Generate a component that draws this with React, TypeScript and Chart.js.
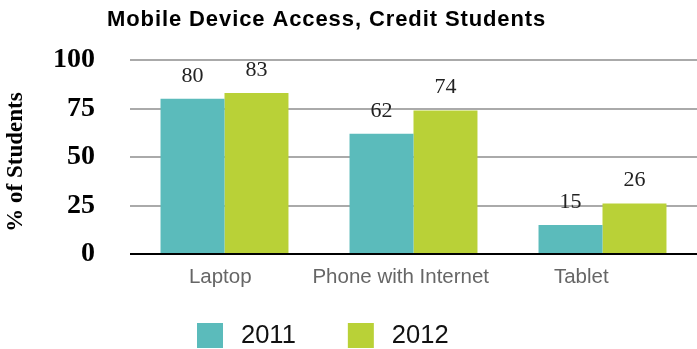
import React, { useEffect, useRef } from "react";
import { Chart, registerables } from "chart.js";

Chart.register(...registerables);

const categories = ["Laptop", "Phone with Internet", "Tablet"];
const series2011 = [80, 62, 15];
const series2012 = [83, 74, 26];
const seriesLabels = ["2011", "2012"];
const seriesColors = ["#5bbbbb", "#b9d137"];
const yTicks = [0, 25, 50, 75, 100];
const titleText = "Mobile Device Access, Credit Students";
const yTitle = "% of Students";

const SERIF = "'Liberation Serif', 'Times New Roman', serif";
const SANS = "'Liberation Sans', Arial, Helvetica, sans-serif";

const extrasPlugin = {
  id: "extras",
  afterDatasetsDraw(chart: any) {
    const ctx = chart.ctx;
    ctx.save();
    ctx.font = `22px ${SERIF}`;
    ctx.fillStyle = "#222";
    ctx.textAlign = "center";
    ctx.textBaseline = "middle";
    chart.data.datasets.forEach((ds: any, i: number) => {
      const meta = chart.getDatasetMeta(i);
      meta.data.forEach((bar: any, j: number) => {
        ctx.fillText(String(ds.data[j]), bar.x, bar.y - 23);
      });
    });
    ctx.restore();
  },
  afterDraw(chart: any) {
    const ctx = chart.ctx;
    const area = chart.chartArea;
    ctx.save();
    // category labels (spaced slightly tighter than the bar groups, as in the source)
    ctx.font = `20.5px ${SANS}`;
    ctx.fillStyle = "#666";
    ctx.textAlign = "center";
    ctx.textBaseline = "middle";
    const labW = (area.width * 0.955) / categories.length;
    categories.forEach((c, i) => {
      ctx.fillText(c, area.left + (i + 0.5) * labW, area.bottom + 23);
    });
    // title
    ctx.font = `bold 22px ${SANS}`;
    (ctx as any).letterSpacing = "0.9px";
    ctx.fillStyle = "#000";
    ctx.textAlign = "left";
    ctx.fillText(titleText, 107, 20);
    (ctx as any).letterSpacing = "0px";
    // y title
    ctx.save();
    ctx.translate(16, (area.top + area.bottom) / 2 + 5);
    ctx.rotate(-Math.PI / 2);
    ctx.font = `bold 23px ${SERIF}`;
    ctx.textAlign = "center";
    ctx.fillText(yTitle, 0, 0);
    ctx.restore();
    // legend
    ctx.font = `25.5px ${SANS}`;
    ctx.textAlign = "left";
    let x = 197;
    const y = 323;
    chart.data.datasets.forEach((ds: any) => {
      ctx.fillStyle = ds.backgroundColor;
      ctx.fillRect(x, y, 26, 25);
      ctx.fillStyle = "#111";
      ctx.fillText(ds.label, x + 44, y + 13);
      const w = ctx.measureText(ds.label).width;
      x += 44 + w + 52;
    });
    ctx.restore();
  },
};

export default function App() {
  const ref = useRef<HTMLCanvasElement>(null);
  useEffect(() => {
    const chart = new Chart(ref.current!, {
      type: "bar",
      data: {
        labels: categories,
        datasets: [
          { label: seriesLabels[0], data: series2011, backgroundColor: seriesColors[0] },
          { label: seriesLabels[1], data: series2012, backgroundColor: seriesColors[1] },
        ],
      },
      plugins: [extrasPlugin],
      options: {
        animation: false,
        responsive: false,
        maintainAspectRatio: false,
        layout: { padding: { top: 60, right: 0, bottom: 55, left: 0 } },
        plugins: {
          legend: { display: false },
          title: { display: false },
          tooltip: { enabled: false },
        },
        datasets: { bar: { categoryPercentage: 0.677, barPercentage: 1 } },
        scales: {
          x: {
            grid: { display: false, drawTicks: false },
            border: { display: false },
            ticks: { display: false },
            afterFit: (s: any) => { s.height = 40; },
          },
          y: {
            min: 0,
            max: 100,
            afterBuildTicks: (s: any) => { s.ticks = yTicks.map((v) => ({ value: v })); },
            grid: {
              drawTicks: false,
              color: (c: any) => (c.tick && c.tick.value === 0 ? "#000" : "#aaaaaa"),
              lineWidth: 2,
            },
            border: { display: false },
            ticks: { color: "#000", font: { family: SERIF, size: 28, weight: "bold" }, padding: 35 },
            afterFit: (s: any) => { s.width = 130; },
          },
        },
      },
    });
    return () => chart.destroy();
  }, []);
  return (
    <div style={{ position: "fixed", left: 0, top: 0, width: 697, height: 349, background: "#fff" }}>
      <canvas ref={ref} width={697} height={349} style={{ display: "block" }} />
    </div>
  );
}
